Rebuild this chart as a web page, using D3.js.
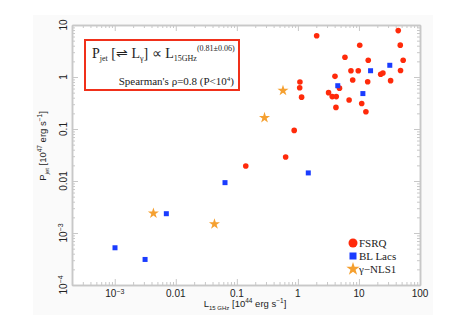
<!DOCTYPE html>
<html><head><meta charset="utf-8">
<script src="https://cdn.jsdelivr.net/npm/d3@7"></script>
<style>body{margin:0;background:#fff}</style>
</head><body>
<svg id="c" width="468" height="331"></svg>
<script>
// FSRQ [L15GHz, Pjet]
const fsrqX = [2.03,44,10.3,47.5,5.9,14.2,53,7.4,9.75,48,22.7,24.7,1.08,4.05,7.9,13.9,33,1.07,4.8,3.18,3.65,4.25,1.15,6.9,11.1,4.2,13,0.87,0.63,0.14];
const fsrqY = [6.2,7.8,4.07,4.1,2.4,2.1,2.1,1.32,1.32,1.33,1.13,1.19,0.80,1.03,0.875,0.81,0.85,0.62,0.61,0.50,0.42,0.42,0.41,0.36,0.31,0.26,0.215,0.094,0.029,0.0194];
const bllacX = [32,15.5,4.5,11.6,1.48,0.064,0.0070,0.00101,0.00314];
const bllacY = [1.68,1.32,0.68,0.48,0.0143,0.0093,0.00235,0.00052,0.00031];
const nlsX = [0.57,0.284,0.0043,0.043];
const nlsY = [0.55,0.165,0.0024,0.00149];
const xTicks = [1e-3,1e-2,1e-1,1,10,100];
const xTickLabels = [["10","−3"],["0.01"],["0.1"],["1"],["10"],["100"]];
const yTicks = [1e-4,1e-3,1e-2,1e-1,1,10];
const yTickLabels = [["10","−4"],["10","−3"],["0.01"],["0.1"],["1"],["10"]];
const legendLabels = ["FSRQ","BL Lacs","γ−NLS1"];

const svg = d3.select("#c");
svg.append("rect").attr("x",33).attr("y",15).attr("width",400).attr("height",300).attr("fill","#fafafa");
const L=72,R=420,T=25,B=285;
svg.append("rect").attr("x",L).attr("y",T).attr("width",R-L).attr("height",B-T).attr("fill","#fff");
const x = d3.scaleLog().domain([Math.pow(10,-3.7),100]).range([L,R]);
const y = d3.scaleLog().domain([1e-4,10]).range([B,T]);
const col = {red:"#ff2a0a", blue:"#1a3cff", orange:"#f5a030"};
const axisCol = "#c8c8c8";
const minors = (dom)=>{const a=[];for(let e=-5;e<=2;e++)for(let m=2;m<=9;m++){const v=m*Math.pow(10,e);if(v>=dom[0]&&v<=dom[1])a.push(v);}return a;};

function drawAxis(gen, tr){
  const g = svg.append("g").attr("transform",tr).call(gen);
  g.selectAll("line").attr("stroke",axisCol);
  g.select(".domain").attr("stroke",axisCol).attr("stroke-width",1.5);
  return g;
}
drawAxis(d3.axisBottom(x).tickValues(xTicks).tickSizeInner(-6).tickSizeOuter(0).tickFormat(""), `translate(0,${B})`);
drawAxis(d3.axisBottom(x).tickValues(minors(x.domain())).tickSizeInner(-3).tickSizeOuter(0).tickFormat(""), `translate(0,${B})`);
drawAxis(d3.axisTop(x).tickValues(xTicks).tickSizeInner(-6).tickSizeOuter(0).tickFormat(""), `translate(0,${T})`);
drawAxis(d3.axisTop(x).tickValues(minors(x.domain())).tickSizeInner(-3).tickSizeOuter(0).tickFormat(""), `translate(0,${T})`);
drawAxis(d3.axisLeft(y).tickValues(yTicks).tickSizeInner(-6).tickSizeOuter(0).tickFormat(""), `translate(${L},0)`);
drawAxis(d3.axisLeft(y).tickValues(minors(y.domain())).tickSizeInner(-3).tickSizeOuter(0).tickFormat(""), `translate(${L},0)`);
drawAxis(d3.axisRight(y).tickValues(yTicks).tickSizeInner(-6).tickSizeOuter(0).tickFormat(""), `translate(${R},0)`);
drawAxis(d3.axisRight(y).tickValues(minors(y.domain())).tickSizeInner(-3).tickSizeOuter(0).tickFormat(""), `translate(${R},0)`);

const tickFont = "'Liberation Sans', Arial, sans-serif";
function addLabel(t, parts){
  t.append("tspan").text(parts[0]);
  if(parts[1]) t.append("tspan").attr("dy","-0.45em").attr("font-size","7px").text(parts[1]);
}
xTicks.forEach((v,i)=>{
  const t = svg.append("text").attr("x",x(v)).attr("y",B+12).attr("text-anchor","middle")
    .attr("font-family",tickFont).attr("font-size",10).attr("fill","#222");
  addLabel(t, xTickLabels[i]);
});
yTicks.forEach((v,i)=>{
  const t = svg.append("text").attr("transform",`translate(${L-5.5},${y(v)}) rotate(-90)`).attr("text-anchor","middle")
    .attr("font-family",tickFont).attr("font-size",10).attr("fill","#222");
  addLabel(t, yTickLabels[i]);
});

// axis titles
const xt = svg.append("text").attr("x",245).attr("y",307).attr("text-anchor","middle")
  .attr("font-family",tickFont).attr("font-size",9.5).attr("fill","#222");
xt.append("tspan").text("L");
xt.append("tspan").attr("font-size","6px").attr("dy","2.5").text("15 GHz");
xt.append("tspan").attr("dy","-2.5").text(" [10");
xt.append("tspan").attr("font-size","6.5px").attr("dy","-4").text("44");
xt.append("tspan").attr("dy","4").text(" erg s");
xt.append("tspan").attr("font-size","6.5px").attr("dy","-4").text("−1");
xt.append("tspan").attr("dy","4").text("]");

const yt = svg.append("text").attr("transform","translate(46,146) rotate(-90)").attr("text-anchor","middle")
  .attr("font-family",tickFont).attr("font-size",9.5).attr("fill","#222");
yt.append("tspan").text("P");
yt.append("tspan").attr("font-size","6px").attr("dy","2.5").text("jet");
yt.append("tspan").attr("dy","-2.5").text(" [10");
yt.append("tspan").attr("font-size","6.5px").attr("dy","-4").text("47");
yt.append("tspan").attr("dy","4").text(" erg s");
yt.append("tspan").attr("font-size","6.5px").attr("dy","-4").text("−1");
yt.append("tspan").attr("dy","4").text("]");

// data
const plot = svg.append("g");
plot.selectAll("circle.f").data(d3.zip(fsrqX,fsrqY)).join("circle")
  .attr("cx",d=>x(d[0])).attr("cy",d=>y(d[1])).attr("r",2.8).attr("fill",col.red);
plot.selectAll("rect.b").data(d3.zip(bllacX,bllacY)).join("rect")
  .attr("x",d=>x(d[0])-2.5).attr("y",d=>y(d[1])-2.5).attr("width",5).attr("height",5).attr("fill",col.blue);
const star = d3.symbol().type(d3.symbolStar).size(38);
plot.selectAll("path.s").data(d3.zip(nlsX,nlsY)).join("path")
  .attr("transform",d=>`translate(${x(d[0])},${y(d[1])})`).attr("d",star).attr("fill",col.orange);

// text box
const serif = "'Liberation Serif','Times New Roman',serif";
svg.append("rect").attr("x",85).attr("y",40).attr("width",154).attr("height",50)
  .attr("fill","#fff").attr("stroke","#f0301a").attr("stroke-width",2);
const t1 = svg.append("text").attr("x",92).attr("y",58).attr("font-family",serif).attr("font-size",14).attr("fill","#222");
t1.append("tspan").text("P");
t1.append("tspan").attr("font-size","8px").attr("dy","3").text("jet");
t1.append("tspan").attr("dy","-3").text(" [⇌ L");
t1.append("tspan").attr("font-size","8px").attr("dy","3").text("γ");
t1.append("tspan").attr("dy","-3").text("] ∝ L");
t1.append("tspan").attr("font-size","8px").attr("dy","3").text("15GHz");
t1.append("tspan").attr("font-size","8px").attr("dy","-10").text("(0.81±0.06)");
const t2 = svg.append("text").attr("x",234).attr("y",85).attr("text-anchor","end").attr("font-family",serif).attr("font-size",11).attr("fill","#222");
t2.append("tspan").text("Spearman's ρ=0.8 (P<10");
t2.append("tspan").attr("font-size","7px").attr("dy","-4").text("4");
t2.append("tspan").attr("dy","4").text(")");

// legend
const lg = svg.append("g");
const ly = [243,256,269];
lg.append("circle").attr("cx",353).attr("cy",ly[0]).attr("r",4.5).attr("fill",col.red);
lg.append("rect").attr("x",349.5).attr("y",ly[1]-3.5).attr("width",7).attr("height",7).attr("fill",col.blue);
lg.append("path").attr("transform",`translate(353,${ly[2]})`).attr("d",d3.symbol().type(d3.symbolStar).size(55)).attr("fill",col.orange);
legendLabels.forEach((s,i)=>{
  lg.append("text").attr("x",359).attr("y",ly[i]+4).attr("font-family",serif).attr("font-size",11).attr("fill","#222").text(s);
});
</script>
</body></html>
